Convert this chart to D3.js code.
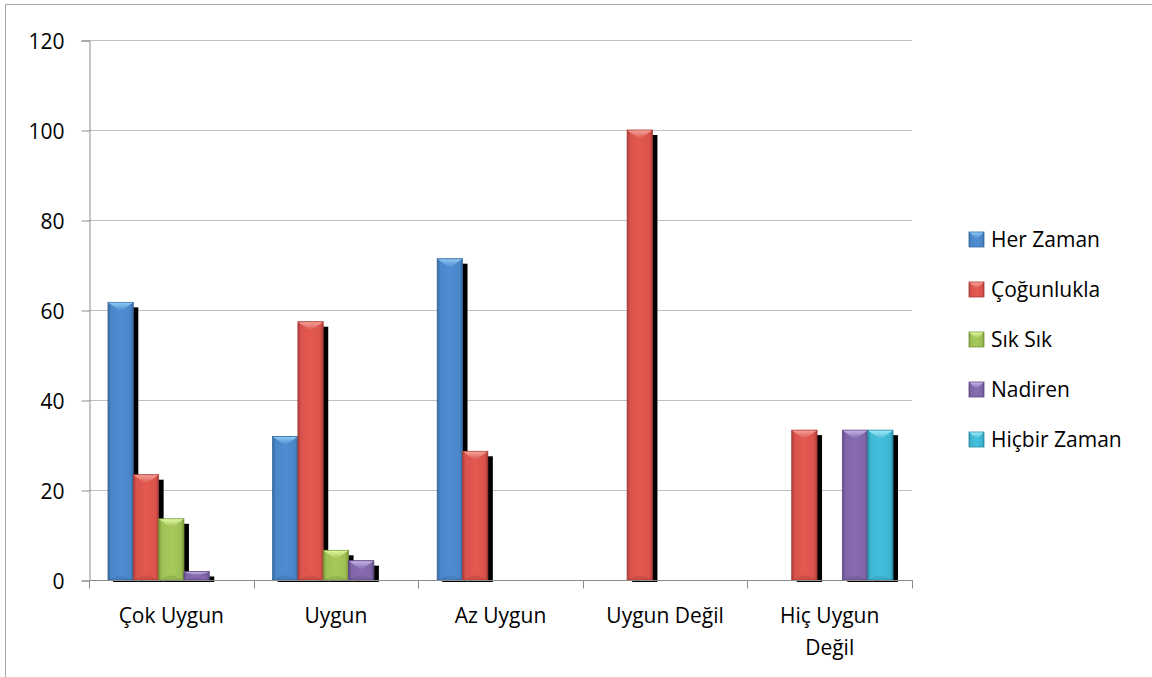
<!DOCTYPE html>
<html>
<head>
<meta charset="utf-8">
<script src="https://cdnjs.cloudflare.com/ajax/libs/d3/7.8.5/d3.min.js"></script>
<style>
  html, body { margin: 0; padding: 0; background: #fff; }
  svg { display: block; font-family: "Open Sans", "DejaVu Sans", sans-serif; }
</style>
</head>
<body>
<svg id="chart" width="1152" height="677"></svg>
<script>
// Response categories (x axis) and the five frequency series, in percent
const categories = ["Çok Uygun", "Uygun", "Az Uygun", "Uygun Değil", "Hiç Uygun Değil"];
const categoryLines = [["Çok Uygun"], ["Uygun"], ["Az Uygun"], ["Uygun Değil"], ["Hiç Uygun", "Değil"]];
const seriesNames = ["Her Zaman", "Çoğunlukla", "Sık Sık", "Nadiren", "Hiçbir Zaman"];
const herZaman    = [61.7, 31.9, 71.4, null, null];
const cogunlukla  = [23.4, 57.4, 28.6, 100, 33.3];
const sikSik      = [13.6, 6.6, null, null, null];
const nadiren     = [1.9, 4.3, null, null, 33.3];
const hicbirZaman = [null, null, null, null, 33.3];
const yTicks = [0, 20, 40, 60, 80, 100, 120];

const seriesValues = [herZaman, cogunlukla, sikSik, nadiren, hicbirZaman];
const palette = [
  { base: "#4a86c8", dark: "#36689f", light: "#8cc8f4" },
  { base: "#d9534c", dark: "#a93c37", light: "#f5a096" },
  { base: "#9dbf55", dark: "#789538", light: "#def79c" },
  { base: "#8066a8", dark: "#5f4a82", light: "#c6b2e6" },
  { base: "#3fb6d2", dark: "#2a8ca5", light: "#9eeaf8" }
];

const FONT = 21;
const svg = d3.select("#chart");
const plot = { left: 89, right: 912, top: 40, bottom: 580 };

// Outer chart border (only top and left edges fall inside the frame)
svg.append("path")
  .attr("d", "M5.5,677 V4.5 H1152")
  .attr("fill", "none").attr("stroke", "#a6a6a6").attr("stroke-width", 1);

const x0 = d3.scaleBand().domain(categories).range([plot.left, plot.right]).padding(0);
const gap = x0.step() * 1.5 / 6.5;
const x1 = d3.scaleBand().domain(seriesNames).range([gap / 2, x0.step() - gap / 2]).padding(0);
const y = d3.scaleLinear().domain([0, 120]).range([plot.bottom, plot.top]);

// Gradients for each series
const defs = svg.append("defs");
palette.forEach((c, i) => {
  const g = defs.append("linearGradient").attr("id", "grad" + i)
    .attr("x1", "0").attr("x2", "1").attr("y1", "0").attr("y2", "0");
  g.append("stop").attr("offset", "0").attr("stop-color", c.dark);
  g.append("stop").attr("offset", "0.12").attr("stop-color", c.base);
  g.append("stop").attr("offset", "0.5").attr("stop-color", d3.color(c.base).brighter(0.15));
  g.append("stop").attr("offset", "0.88").attr("stop-color", c.base);
  g.append("stop").attr("offset", "1").attr("stop-color", c.dark);
  const t = defs.append("linearGradient").attr("id", "cap" + i)
    .attr("x1", "0").attr("x2", "0").attr("y1", "0").attr("y2", "1");
  t.append("stop").attr("offset", "0").attr("stop-color", c.light);
  t.append("stop").attr("offset", "1").attr("stop-color", c.base);
});

// Horizontal gridlines
svg.append("g").selectAll("line").data(yTicks.filter(d => d > 0)).join("line")
  .attr("x1", plot.left).attr("x2", plot.right)
  .attr("y1", d => Math.round(y(d)) + 0.5).attr("y2", d => Math.round(y(d)) + 0.5)
  .attr("stroke", "#bfbfbf").attr("stroke-width", 1);

// Y axis
const yAxis = svg.append("g").attr("transform", `translate(${plot.left + 0.5},0.5)`)
  .call(d3.axisLeft(y).tickValues(yTicks).tickSize(8).tickPadding(17));
yAxis.select(".domain").attr("stroke", "#8c8c8c");
yAxis.selectAll(".tick line").attr("stroke", "#8c8c8c");
yAxis.selectAll(".tick text").attr("font-size", FONT).attr("fill", "#000")
  .attr("font-family", "Open Sans, sans-serif").attr("dy", "0.36em");

// Bars
const barData = [];
categories.forEach((cat, ci) => {
  seriesNames.forEach((s, si) => {
    const v = seriesValues[si][ci];
    if (v != null) barData.push({ cat, s, si, v });
  });
});

const bw = x1.bandwidth();
const bars = svg.append("g");
// drop shadows first
bars.selectAll("rect.shadow").data(barData).join("rect").attr("class", "shadow")
  .attr("x", d => x0(d.cat) + x1(d.s) + 5)
  .attr("y", d => y(d.v) + 5)
  .attr("width", bw)
  .attr("height", d => Math.max(0, y(0) - y(d.v) - 3))
  .attr("fill", "#000");

const barG = bars.selectAll("g.bar").data(barData).join("g").attr("class", "bar")
  .attr("transform", d => `translate(${x0(d.cat) + x1(d.s)},${y(d.v)})`);
barG.append("rect")
  .attr("width", bw).attr("height", d => y(0) - y(d.v))
  .attr("fill", d => `url(#grad${d.si})`)
  .attr("stroke", d => palette[d.si].dark).attr("stroke-width", 0.8);
// bevelled top cap
barG.append("path")
  .attr("d", d => {
    const h = Math.min(9, (y(0) - y(d.v)) / 2);
    return `M0.5,0.5 H${bw - 0.5} L${bw / 2},${h} Z`;
  })
  .attr("fill", d => `url(#cap${d.si})`);
// subtle darker bottom bevel
barG.append("path")
  .attr("d", d => {
    const H = y(0) - y(d.v);
    const h = Math.min(5, H / 3);
    return `M0.5,${H - 0.5} H${bw - 0.5} L${bw / 2},${H - h} Z`;
  })
  .attr("fill", d => palette[d.si].dark).attr("opacity", 0.35);

// X axis
const xAxisG = svg.append("g").attr("transform", `translate(0,${plot.bottom + 0.5})`);
xAxisG.append("line").attr("x1", plot.left).attr("x2", plot.right + 1)
  .attr("stroke", "#8c8c8c");
const bounds = categories.map(c => x0(c)).concat([plot.right]);
xAxisG.selectAll("line.tick").data(bounds).join("line").attr("class", "tick")
  .attr("x1", d => Math.round(d) + 0.5).attr("x2", d => Math.round(d) + 0.5)
  .attr("y1", 0).attr("y2", 8).attr("stroke", "#8c8c8c");
const labels = xAxisG.selectAll("text").data(categories).join("text")
  .attr("x", d => x0(d) + x0.bandwidth() / 2)
  .attr("y", 42)
  .attr("text-anchor", "middle").attr("font-size", FONT).attr("fill", "#000");
labels.each(function (d, i) {
  d3.select(this).selectAll("tspan").data(categoryLines[i]).join("tspan")
    .attr("x", x0(d) + x0.bandwidth() / 2)
    .attr("dy", (t, j) => j === 0 ? 0 : 32)
    .text(t => t);
});

// Legend
const legend = svg.append("g").attr("transform", "translate(969,239)");
const item = legend.selectAll("g").data(seriesNames).join("g")
  .attr("transform", (d, i) => `translate(0,${i * 50})`);
item.append("rect").attr("x", 0).attr("y", -7).attr("width", 15).attr("height", 15)
  .attr("fill", (d, i) => `url(#grad${i})`)
  .attr("stroke", (d, i) => palette[i].dark).attr("stroke-width", 0.8);
item.append("path").attr("d", "M0.5,-6.5 H14.5 L7.5,0 Z")
  .attr("fill", (d, i) => `url(#cap${i})`);
item.append("text").attr("x", 22).attr("y", 0).attr("dy", "0.36em")
  .attr("font-size", FONT).attr("fill", "#000").text(d => d);
</script>
</body>
</html>
